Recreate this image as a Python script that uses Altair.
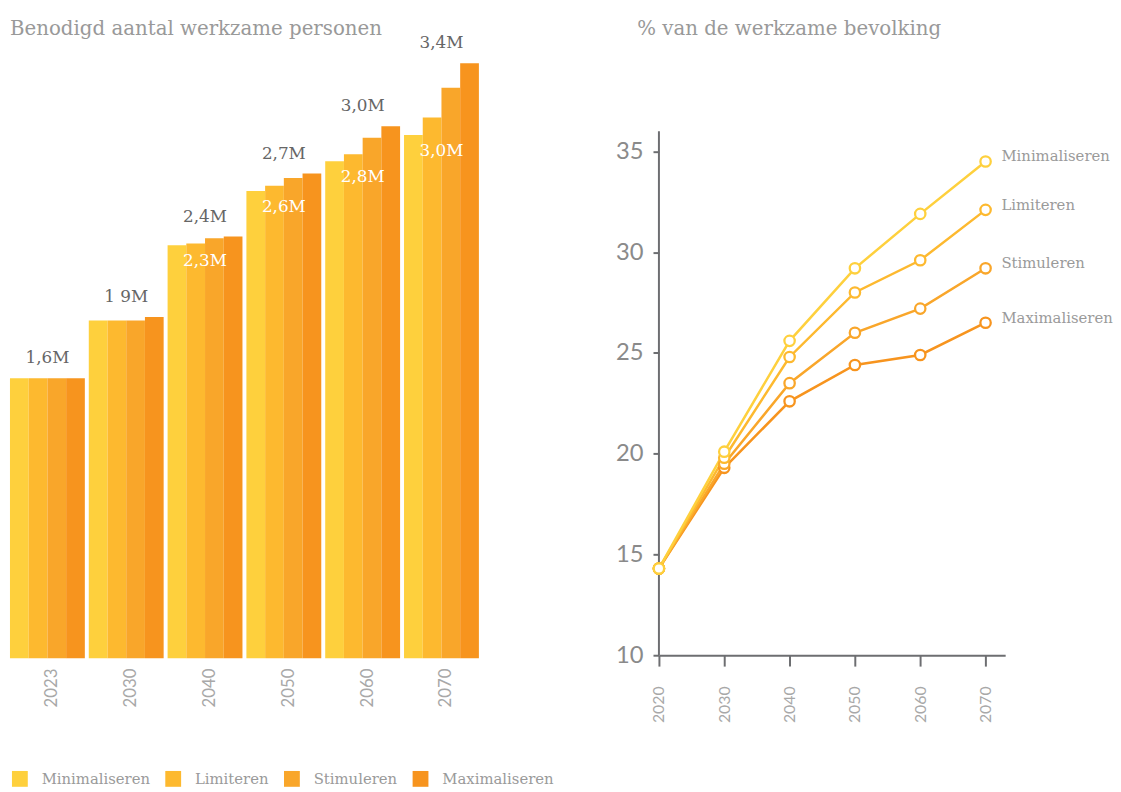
import altair as alt
import pandas as pd

# ---------------- data ----------------
scenarios = ["Minimaliseren", "Limiteren", "Stimuleren", "Maximaliseren"]
colors = ["#FED03D", "#FDB92F", "#F9A62A", "#F7941E"]

bar_years = ["2023", "2030", "2040", "2050", "2060", "2070"]
bar_min = [1.60, 1.93, 2.36, 2.67, 2.84, 2.99]
bar_lim = [1.60, 1.93, 2.37, 2.70, 2.88, 3.09]
bar_stim = [1.60, 1.93, 2.40, 2.745, 2.975, 3.26]
bar_max = [1.60, 1.95, 2.41, 2.77, 3.04, 3.40]
top_labels = ["1,6M", "1 9M", "2,4M", "2,7M", "3,0M", "3,4M"]
inner_labels = ["", "", "2,3M", "2,6M", "2,8M", "3,0M"]

line_years = [2020, 2030, 2040, 2050, 2060, 2070]
pct_min = [14.3, 20.1, 25.6, 29.2, 31.9, 34.5]
pct_lim = [14.3, 19.8, 24.8, 28.0, 29.6, 32.1]
pct_stim = [14.3, 19.5, 23.5, 26.0, 27.2, 29.2]
pct_max = [14.3, 19.3, 22.6, 24.4, 24.9, 26.5]
y_ticks = [10, 15, 20, 25, 30, 35]

titles = ["Benodigd aantal werkzame personen", "% van de werkzame bevolking"]

SANS = "Lato"
SLAB = "DejaVu Serif"
GREY = "#8a8a8a"
AXIS = "#6d6e71"

# ---------------- tables ----------------
bar_series = [bar_min, bar_lim, bar_stim, bar_max]
bar_rows = []
for s, vals in zip(scenarios, bar_series):
    for y, v in zip(bar_years, vals):
        bar_rows.append({"jaar": y, "scenario": s, "waarde": v})
bar_df = pd.DataFrame(bar_rows)

lab_df = pd.DataFrame({
    "jaar": bar_years,
    "top": bar_max,
    "bottom": bar_min,
    "toplabel": top_labels,
    "innerlabel": inner_labels,
})

line_series = [pct_max, pct_stim, pct_lim, pct_min]
line_names = scenarios[::-1]
line_rows = []
for s, vals in zip(line_names, line_series):
    for y, v in zip(line_years, vals):
        line_rows.append({"jaar": y, "scenario": s, "pct": v})
line_df = pd.DataFrame(line_rows)
end_df = line_df[line_df["jaar"] == line_years[-1]]

one = pd.DataFrame({"a": [0]})

color_scale = alt.Scale(domain=scenarios, range=colors)
legend = alt.Legend(
    title=None, orient="none", direction="horizontal", legendX=4, legendY=721,
    symbolType="square", symbolSize=256, symbolStrokeWidth=0, symbolOpacity=1,
    labelFont=SLAB, labelFontSize=15, labelColor="#9a9a9a",
    labelOffset=14, columnPadding=15, padding=0,
)

# ---------------- bar chart ----------------
x_bar = alt.X("jaar:N", sort=bar_years,
              scale=alt.Scale(paddingInner=0.05, paddingOuter=0.025),
              axis=alt.Axis(title=None, domain=False, ticks=False, labelAngle=270,
                            labelFont=SANS, labelFontSize=17, labelColor="#a8a8a8",
                            labelPadding=10, labelOffset=5))
y_bar = alt.Scale(domain=[0, 3.432], nice=False, zero=True)

bars = alt.Chart(bar_df).mark_bar(opacity=1, strokeWidth=0).encode(
    x=x_bar,
    xOffset=alt.XOffset("scenario:N", sort=scenarios, scale=alt.Scale(paddingInner=0, paddingOuter=0)),
    y=alt.Y("waarde:Q", scale=y_bar, axis=None),
    color=alt.Color("scenario:N", scale=color_scale, sort=scenarios, legend=legend),
)
top_text = alt.Chart(lab_df).mark_text(
    baseline="bottom", dy=-11, font=SLAB, fontSize=17, color="#666666"
).encode(x=alt.X("jaar:N", sort=bar_years), y=alt.Y("top:Q", scale=y_bar), text="toplabel:N")
inner_text = alt.Chart(lab_df).mark_text(
    baseline="top", dy=8, font=SLAB, fontSize=17, color="white"
).encode(x=alt.X("jaar:N", sort=bar_years), y=alt.Y("bottom:Q", scale=y_bar), text="innerlabel:N")
bar_title = alt.Chart(one).mark_text(
    align="left", baseline="alphabetic", font=SLAB, fontSize=20, color="#999999"
).encode(x=alt.value(2), y=alt.value(-23), text=alt.value(titles[0]))

bar_chart = alt.layer(bars, top_text, inner_text, bar_title).properties(width=478, height=607)

# ---------------- line chart ----------------
x_line = alt.X("jaar:Q", scale=alt.Scale(domain=[2020, 2073], nice=False, zero=False),
               axis=alt.Axis(title=None, values=line_years, format="d", grid=False,
                             domainColor=AXIS, domainWidth=2, tickColor=AXIS, tickWidth=2,
                             tickSize=11, labelAngle=270, labelFont=SANS, labelFontSize=16,
                             labelColor="#a8a8a8", labelPadding=20))
y_scale_line = alt.Scale(domain=[10, 39.65], nice=False, zero=False)
y_line = alt.Y("pct:Q", scale=y_scale_line,
               axis=alt.Axis(title=None, values=y_ticks, grid=False, domain=False,
                             tickColor=AXIS, tickWidth=2, tickSize=6, labelFont=SANS,
                             labelFontSize=24, labelColor=GREY, labelPadding=10))
color_line = alt.Color("scenario:N", scale=color_scale, sort=scenarios, legend=legend)

yaxis_rule = alt.Chart(one).mark_rule(color=AXIS, strokeWidth=2).encode(
    x=alt.datum(2020), y=alt.datum(10), y2=alt.datum(36)
)
lines = alt.Chart(line_df).mark_line(strokeWidth=2.5).encode(
    x=x_line, y=y_line, color=color_line, order="jaar:Q"
)
points = alt.Chart(line_df).mark_point(
    shape="circle", filled=False, fill="white", fillOpacity=1, size=110, strokeWidth=2.3, opacity=1
).encode(x=x_line, y=y_line, color=color_line)
end_labels = alt.Chart(end_df).mark_text(
    align="left", dx=16, dy=-5, font=SLAB, fontSize=15, color="#9a9a9a"
).encode(x=alt.X("jaar:Q"), y=alt.Y("pct:Q"), text="scenario:N")
line_title = alt.Chart(one).mark_text(
    align="left", baseline="alphabetic", font=SLAB, fontSize=20, color="#999999"
).encode(x=alt.value(-22), y=alt.value(-23), text=alt.value(titles[1]))

line_chart = alt.layer(yaxis_rule, lines, points, end_labels, line_title).properties(
    width=350, height=604
)

chart = alt.hconcat(bar_chart, line_chart, spacing=136).properties(
    padding={"top": 7, "left": 0, "right": 0, "bottom": 0}, background="white"
).configure_view(stroke=None)

chart.save("out.html", embed_options={"renderer": "svg", "actions": False})
